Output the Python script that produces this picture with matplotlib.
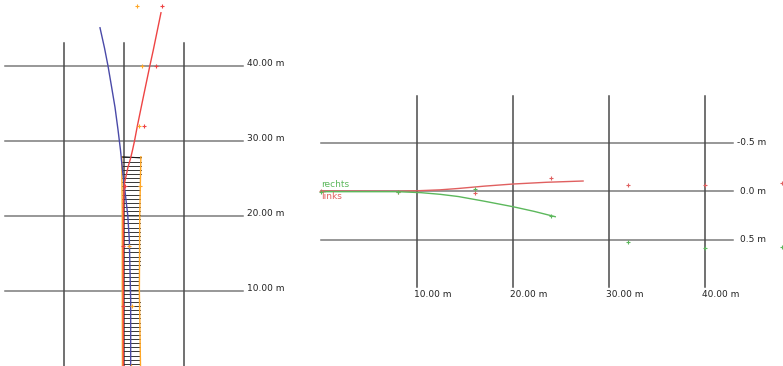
import numpy as np
import matplotlib
matplotlib.use("Agg")
import matplotlib.pyplot as plt

# ---------------- top view (forward distance d, lateral offset x) ----------------
grid_d = [10, 20, 30, 40]
grid_x = [-8, 0, 8]
grid_d_labels = ["10.00 m", "20.00 m", "30.00 m", "40.00 m"]

path_blue_d = [0, 8.8, 16.8, 20.0, 22.1, 24.1, 26.1, 28.8, 31.5, 34.5, 37.3, 40.0, 42.4, 45.1]
path_blue_x = [0.89, 0.89, 0.71, 0.51, 0.27, 0.04, -0.20, -0.47, -0.80, -1.20, -1.67, -2.13, -2.60, -3.20]

path_red_d = [0, 15.5, 22.1, 24.4, 26.5, 27.7, 28.8, 30.0, 32.0, 35.5, 40.0, 42.1, 47.1]
path_red_x = [-0.09, -0.09, -0.07, 0.07, 0.53, 0.88, 1.14, 1.40, 1.78, 2.50, 3.44, 3.90, 4.93]

lane_d = [0, 10, 20, 27.9]
lane_left_x = [-0.21, -0.23, -0.23, -0.30]
lane_right_x = [2.20, 2.05, 2.10, 2.25]
rung_spacing = 0.55

marker_d = [0, 8, 16, 24, 32, 40, 48]
marker_red_x = [-0.09, -0.09, -0.09, 0.13, 2.71, 4.23, 5.03]
marker_orange_x = [0.89, 1.03, 0.71, 2.10, 2.04, 2.36, 1.77]

# ---------------- lateral profile (distance s, offset y) ----------------
prof_grid_s = [10, 20, 30, 40]
prof_grid_y = [-0.5, 0.0, 0.5]
prof_s_labels = ["10.00 m", "20.00 m", "30.00 m", "40.00 m"]
prof_y_labels = ["-0.5 m", "0.0 m", "0.5 m"]

rechts_s = [0, 8, 10.4, 12.4, 14.3, 17.0, 20.0, 22.2, 24.4]
rechts_y = [0.007, 0.007, 0.017, 0.034, 0.057, 0.105, 0.162, 0.210, 0.265]
links_s = [0, 8, 10.4, 12.4, 14.3, 17.0, 20.0, 23.5, 27.3]
links_y = [0.0, 0.003, -0.004, -0.012, -0.026, -0.050, -0.072, -0.090, -0.103]

prof_marker_s = [0, 8, 16, 24, 32, 40, 48]
rechts_marker_y = [0.007, 0.007, -0.02, 0.255, 0.526, 0.588, 0.577]
links_marker_y = [0.0, 0.007, 0.024, -0.131, -0.062, -0.062, -0.082]

W, H = 783, 366
fig = plt.figure(figsize=(W / 100, H / 100), dpi=100)

HGRID = "#7a7a7a"
VGRID = "#4a4a4a"
BLUE = "#4a4aa8"
RED = "#ee4444"
ORANGE = "#ffa726"
GREEN = "#5cb85c"
LRED = "#e06060"
FS = 6.5

# ---- left panel: top view, 7.5 px per metre both ways ----
axL = fig.add_axes([0, 0, 300 / W, 1])
axL.set_xlim(-124 / 7.5, 176 / 7.5)
axL.set_ylim(0, H / 7.5)
axL.axis("off")

for d, lab in zip(grid_d, grid_d_labels):
    axL.plot([-15.9, 15.9], [d, d], color=HGRID, lw=1.1, zorder=1)
    axL.text(16.4, d + 0.35, lab, fontsize=FS, ha="left", va="center", color="#222222")
for x in grid_x:
    axL.plot([x, x], [0, 43.0], color=VGRID, lw=1.1, zorder=1)

# lane ladder
rung_d = np.arange(0.3, lane_d[-1], rung_spacing)
rl = np.interp(rung_d, lane_d, lane_left_x)
rr = np.interp(rung_d, lane_d, lane_right_x)
for d, a, b in zip(rung_d, rl, rr):
    axL.plot([a, b], [d, d], color="#2a2a2a", lw=0.65, zorder=2)
axL.plot(lane_left_x, lane_d, color=ORANGE, lw=1.0, zorder=3)
axL.plot(lane_right_x, lane_d, color=ORANGE, lw=1.0, zorder=3)
axL.plot([lane_left_x[-1], lane_right_x[-1]], [lane_d[-1], lane_d[-1] - 0.15],
         color="#1a1a1a", lw=0.8, zorder=2)

axL.plot(path_blue_x, path_blue_d, color=BLUE, lw=1.0, zorder=4)
axL.plot(path_red_x, path_red_d, color=RED, lw=1.0, zorder=4)
axL.plot(marker_orange_x, marker_d, ls="none", marker="+", ms=3.2, mew=0.8,
         color=ORANGE, zorder=5, clip_on=False)
axL.plot(marker_red_x, marker_d, ls="none", marker="+", ms=3.2, mew=0.8,
         color=RED, zorder=5, clip_on=False)

# ---- right panel: lateral profile, 9.6 px per metre / 97 px per metre ----
axR = fig.add_axes([300 / W, 0, 483 / W, 1])
axR.set_xlim(-21 / 9.6, 462 / 9.6)
axR.set_ylim((H - 191) / 97, -191 / 97)
axR.axis("off")

for y, lab in zip(prof_grid_y, prof_y_labels):
    axR.plot([0, 42.9], [y, y], color=HGRID, lw=1.1, zorder=1)
    axR.text(46.35, y, lab, fontsize=FS, ha="right", va="center", color="#222222")
for s, lab in zip(prof_grid_s, prof_s_labels):
    axR.plot([s, s], [-0.98, 0.99], color=VGRID, lw=1.1, zorder=1)
    axR.text(s - 0.3, 1.072, lab, fontsize=FS, ha="left", va="center", color="#222222")

axR.plot(links_s, links_y, color=LRED, lw=1.0, zorder=3)
axR.plot(rechts_s, rechts_y, color=GREEN, lw=1.0, zorder=3)
axR.plot(prof_marker_s, links_marker_y, ls="none", marker="+", ms=3.2, mew=0.8,
         color=LRED, zorder=4, clip_on=False)
axR.plot(prof_marker_s, rechts_marker_y, ls="none", marker="+", ms=3.2, mew=0.8,
         color=GREEN, zorder=4, clip_on=False)
axR.text(0, -0.062, "rechts", fontsize=FS, color=GREEN, ha="left", va="center")
axR.text(0, 0.052, "links", fontsize=FS, color=LRED, ha="left", va="center")

fig.savefig("out.png", dpi=100)
